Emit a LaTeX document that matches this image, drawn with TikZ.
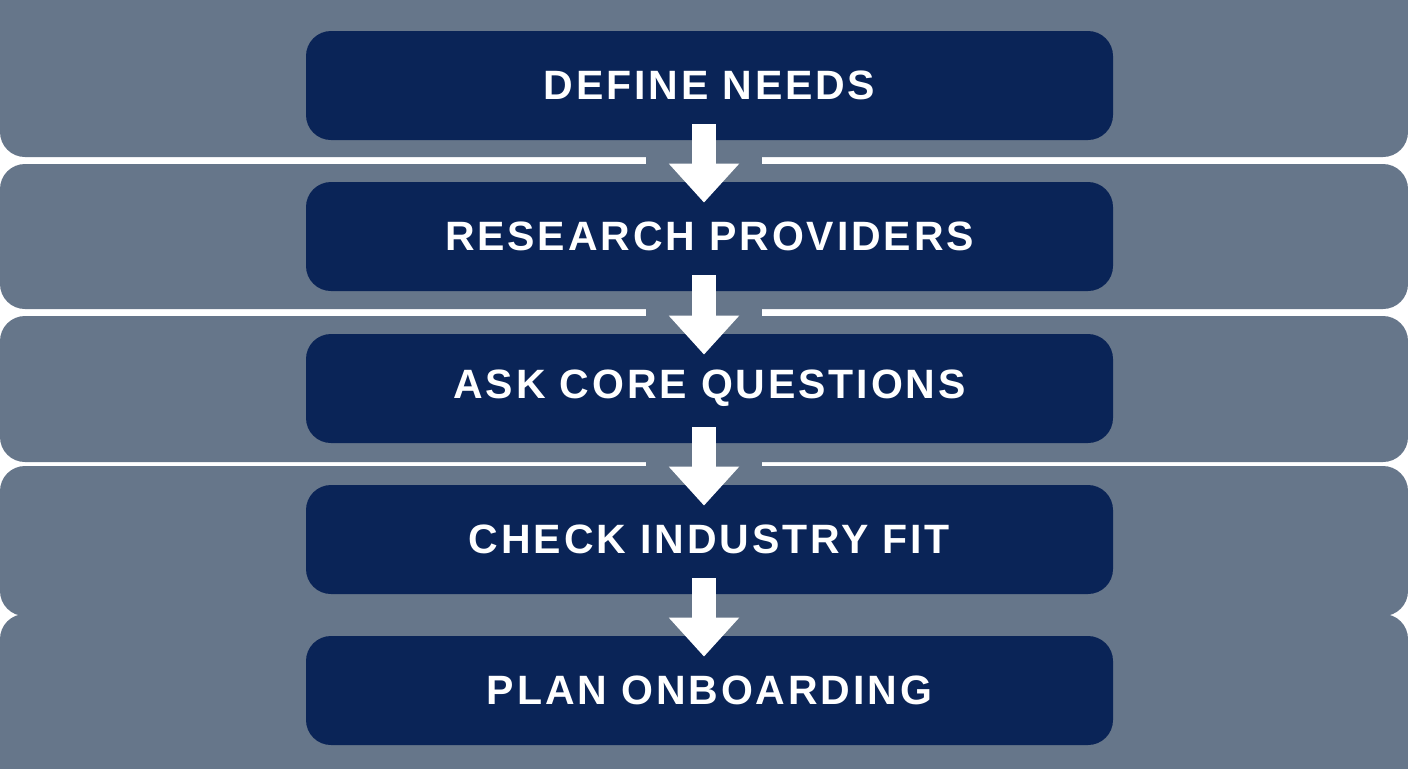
\documentclass[tikz,border=0pt]{standalone}
\usepackage{fontspec}
\setmainfont{Liberation Sans}[LetterSpace=7]
\usetikzlibrary{arrows.meta}

\definecolor{bandgrey}{HTML}{66768A}
\definecolor{navy}{HTML}{0A2457}

\begin{document}
\begin{tikzpicture}[x=0.5pt, y=-0.5pt]

\tikzstyle band=[fill=bandgrey, rounded corners=12.5pt]
\tikzstyle stepbox=[rounded corners=12.5pt, fill=navy, text=white, minimum width=403.5pt, minimum height=54.5pt, inner sep=0pt, font=\bfseries\fontsize{20.5}{24}\selectfont]
\tikzstyle flow=[draw=white, line width=12pt, -{Triangle[length=19.5pt, width=34pt]}]

\useasboundingbox (0,0) rectangle (1408,768);
\fill [white] (0,0) rectangle (1408,768);

% grey bands
\fill [band] (0,-30) rectangle (1408,157);
\fill [band] (0,164) rectangle (1408,309);
\fill [band] (0,316) rectangle (1408,462);
\fill [band] (0,466) rectangle (1408,616);
\fill [band] (0,614) rectangle (1408,800);

% patches over the gaps behind the arrows
\foreach \y in {157,309,462}
{
\fill [bandgrey] (646,\y-4) rectangle (762,\y+10);
}

\node (b1) [stepbox] at (709.5,85.5)  {DEFINE NEEDS};
\node (b2) [stepbox] at (709.5,236.5) {RESEARCH PROVIDERS};
\node (b3) [stepbox] at (709.5,388.5) {ASK CORE QUESTIONS};
\node (b4) [stepbox] at (709.5,539.5) {CHECK INDUSTRY FIT};
\node (b5) [stepbox] at (709.5,690.5) {PLAN ONBOARDING};

\foreach \i [evaluate=\i as \j using int(\i+1)] in {1,...,4}
{
\draw [flow] ([xshift=-2.75pt, yshift=8pt]b\i.south) -- ([xshift=-2.75pt, yshift=-10.5pt]b\j.north);
}

\end{tikzpicture}
\end{document}
